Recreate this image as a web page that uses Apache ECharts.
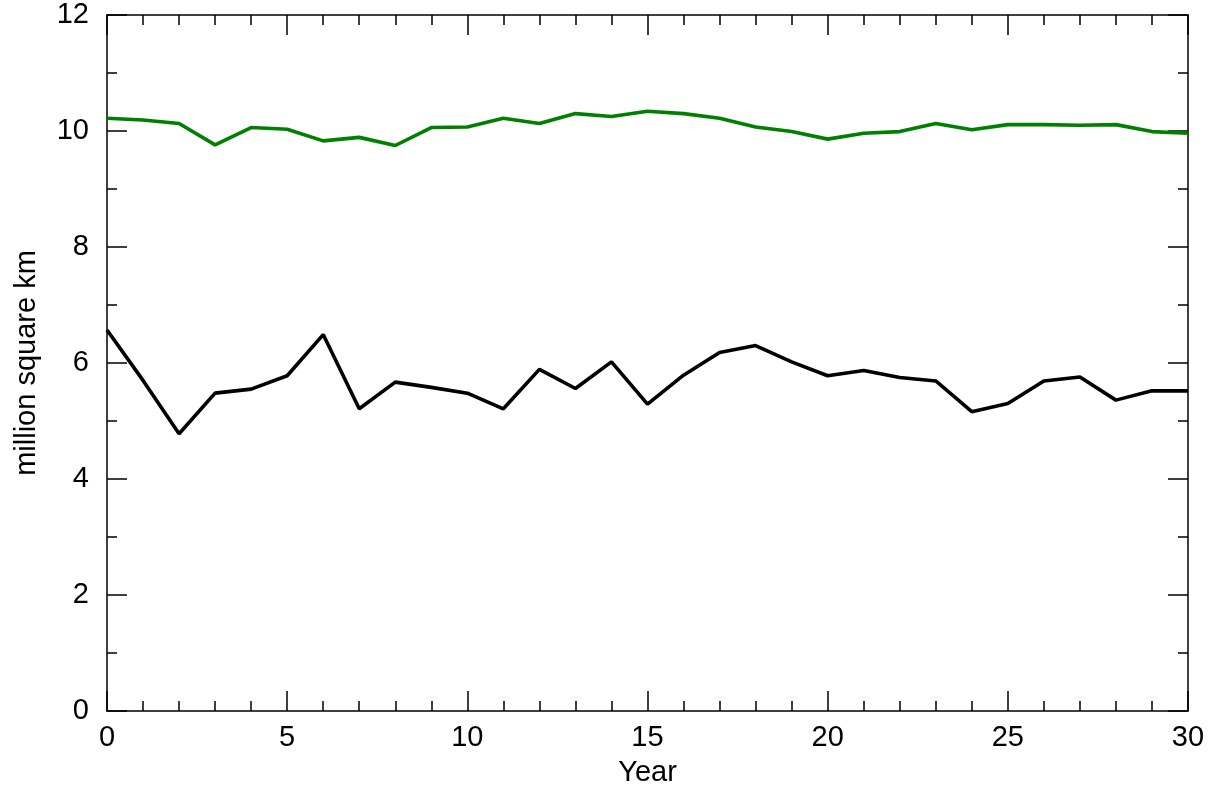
<!DOCTYPE html>
<html>
<head>
<meta charset="utf-8">
<script src="https://cdn.jsdelivr.net/npm/echarts@6/dist/echarts.min.js"></script>
<style>
  html, body { margin: 0; padding: 0; background: #fff; }
  #main { width: 1211px; height: 800px; }
</style>
</head>
<body>
<div id="main"></div>
<script>
var years = [];
for (var i = 0; i <= 30; i++) years.push(i);

var greenValues = [10.22, 10.19, 10.13, 9.76, 10.06, 10.03, 9.83, 9.89, 9.75, 10.06,
    10.07, 10.22, 10.13, 10.30, 10.25, 10.34, 10.30, 10.22, 10.07, 9.99,
    9.86, 9.96, 9.99, 10.13, 10.02, 10.11, 10.11, 10.10, 10.11, 9.99, 9.96];

var blackValues = [6.57, 5.70, 4.78, 5.48, 5.55, 5.78, 6.49, 5.21, 5.67, 5.58,
    5.48, 5.21, 5.89, 5.56, 6.02, 5.29, 5.79, 6.18, 6.30, 6.02,
    5.78, 5.87, 5.75, 5.69, 5.16, 5.30, 5.69, 5.76, 5.36, 5.52, 5.52];

function pairs(vals) {
    return years.map(function (y, i) { return [y, vals[i]]; });
}

var font = 'Liberation Sans';
var fs = 29;
var axisLine = { show: true, onZero: false, lineStyle: { color: '#000', width: 1.5 } };
var tick = { show: true, inside: true, length: 20, lineStyle: { color: '#000', width: 1.5 } };

function minor(n) {
    return { show: true, splitNumber: n, length: 10, lineStyle: { color: '#000', width: 1.5 } };
}

var myChart = echarts.init(document.getElementById('main'));
var option = {
    animation: false,
    backgroundColor: '#fff',
    textStyle: { fontFamily: font },
    grid: { left: 107, right: 23, top: 15, bottom: 89 },
    xAxis: [
        {
            type: 'value', min: 0, max: 30, interval: 5,
            name: 'Year', nameLocation: 'middle', nameGap: 47,
            nameTextStyle: { color: '#000', fontSize: fs, fontFamily: font },
            axisLine: axisLine, axisTick: tick, minorTick: minor(5),
            axisLabel: { color: '#000', fontSize: fs, margin: 12, fontFamily: font },
            splitLine: { show: false }
        },
        {
            type: 'value', min: 0, max: 30, interval: 5, position: 'top',
            axisLine: axisLine, axisTick: tick, minorTick: minor(5),
            axisLabel: { show: false },
            splitLine: { show: false }
        }
    ],
    yAxis: [
        {
            type: 'value', min: 0, max: 12, interval: 2,
            name: 'million square km', nameLocation: 'middle', nameGap: 66,
            nameTextStyle: { color: '#000', fontSize: fs, fontFamily: font },
            axisLine: axisLine, axisTick: tick, minorTick: minor(2),
            axisLabel: { color: '#000', fontSize: fs, margin: 18, fontFamily: font },
            splitLine: { show: false }
        },
        {
            type: 'value', min: 0, max: 12, interval: 2, position: 'right',
            axisLine: axisLine, axisTick: tick, minorTick: minor(2),
            axisLabel: { show: false },
            splitLine: { show: false }
        }
    ],
    series: [
        {
            name: 'green', type: 'line', data: pairs(greenValues),
            showSymbol: false, lineStyle: { color: '#008000', width: 3.6 },
            itemStyle: { color: '#008000' }
        },
        {
            name: 'black', type: 'line', data: pairs(blackValues),
            showSymbol: false, lineStyle: { color: '#000', width: 3.6 },
            itemStyle: { color: '#000' }
        }
    ]
};
myChart.setOption(option);
</script>
</body>
</html>
